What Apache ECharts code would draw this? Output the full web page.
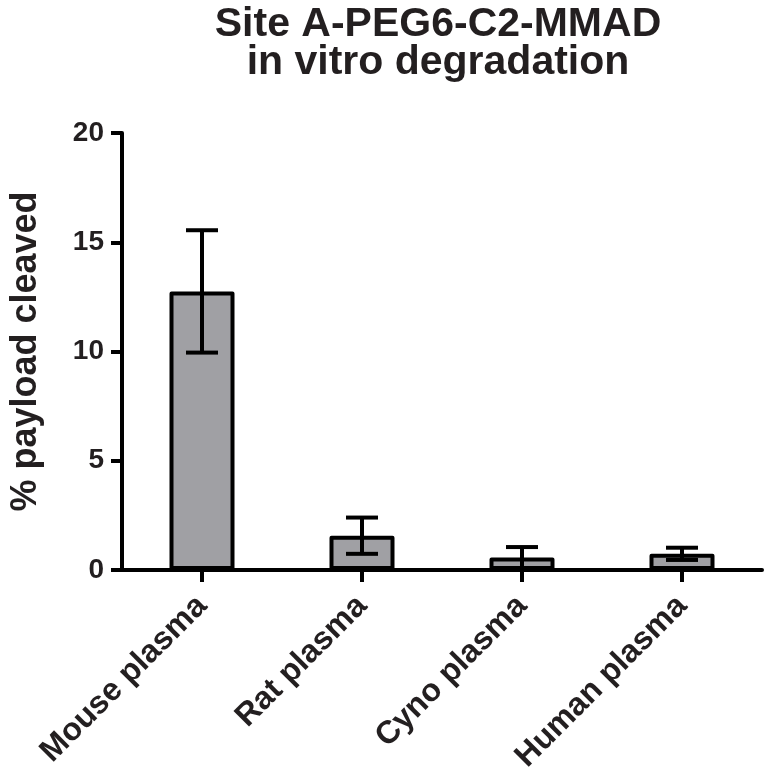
<!DOCTYPE html>
<html>
<head>
<meta charset="utf-8">
<script src="https://cdn.jsdelivr.net/npm/echarts@6/dist/echarts.min.js"></script>
<style>
html,body{margin:0;padding:0;background:#fff;}
#chart{width:766px;height:776px;}
</style>
</head>
<body>
<div id="chart"></div>
<script>
const categories = ['Mouse plasma', 'Rat plasma', 'Cyno plasma', 'Human plasma'];
const meanValues = [12.75, 1.57, 0.57, 0.74];
const errValues = [2.8, 0.83, 0.48, 0.28];
const yTicks = [0, 5, 10, 15, 20];

const FONT = '"Liberation Sans", Arial, Helvetica, sans-serif';
const chart = echarts.init(document.getElementById('chart'));

const errData = categories.map((c, i) => [i, meanValues[i] - errValues[i], meanValues[i] + errValues[i]]);

chart.setOption({
  animation: false,
  backgroundColor: '#fff',
  title: {
    text: 'Site A-PEG6-C2-MMAD\nin vitro degradation',
    left: 433,
    top: 1,
    textAlign: 'center',
    textStyle: { fontFamily: FONT, fontWeight: 'bold', fontSize: 41, lineHeight: 38, color: '#231f20' }
  },
  grid: { left: 105, right: 4, top: 133, bottom: 206 },
  xAxis: {
    type: 'category',
    data: categories,
    axisLine: { lineStyle: { color: '#000', width: 4 } },
    axisTick: { show: true, alignWithLabel: true, length: 12, lineStyle: { color: '#000', width: 4 } },
    axisLabel: { rotate: 45, margin: 31, fontFamily: FONT, fontWeight: 'bold', fontSize: 32, color: '#231f20', interval: 0 }
  },
  yAxis: {
    type: 'value',
    min: yTicks[0],
    max: yTicks[yTicks.length - 1],
    interval: 5,
    name: '% payload cleaved',
    nameLocation: 'middle',
    nameGap: 78,
    nameRotate: 90,
    nameTextStyle: { fontFamily: FONT, fontWeight: 'bold', fontSize: 36, color: '#231f20' },
    splitLine: { show: false },
    axisLine: { show: true, lineStyle: { color: '#000', width: 4 } },
    axisTick: { show: true, length: 11, lineStyle: { color: '#000', width: 4 } },
    axisLabel: { margin: 18, fontFamily: FONT, fontWeight: 'bold', fontSize: 28, color: '#231f20' }
  },
  series: [
    {
      type: 'bar',
      data: meanValues,
      barWidth: 65,
      itemStyle: { color: '#a0a0a4', borderColor: '#000', borderWidth: 4, borderJoin: 'round' },
      z: 2
    },
    {
      type: 'custom',
      data: errData,
      z: 3,
      renderItem: function (params, api) {
        const x = api.value(0);
        const lo = api.coord([x, api.value(1)]);
        const hi = api.coord([x, api.value(2)]);
        const hw = 16;
        const st = { stroke: '#000', lineWidth: 4 };
        return {
          type: 'group',
          children: [
            { type: 'line', shape: { x1: hi[0], y1: hi[1], x2: lo[0], y2: lo[1] }, style: st },
            { type: 'line', shape: { x1: hi[0] - hw, y1: hi[1], x2: hi[0] + hw, y2: hi[1] }, style: st },
            { type: 'line', shape: { x1: lo[0] - hw, y1: lo[1], x2: lo[0] + hw, y2: lo[1] }, style: st }
          ]
        };
      }
    }
  ]
});
</script>
</body>
</html>
